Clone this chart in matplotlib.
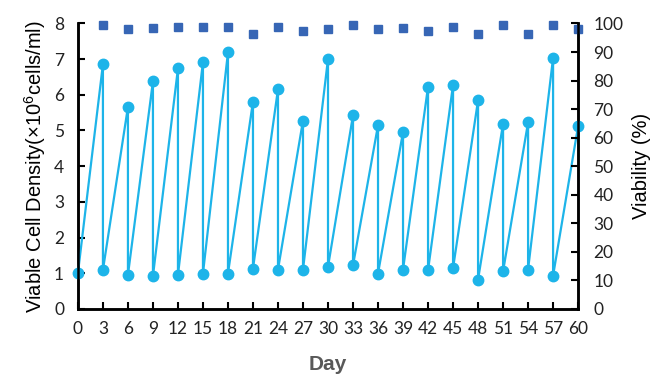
import numpy as np
import matplotlib
matplotlib.use("Agg")
import matplotlib.pyplot as plt

plt.rcParams['mathtext.default'] = 'regular'

# viable cell density: low value after each split (days 0..57), peak before split (days 3..60)
low_days = np.arange(0, 58, 3)
low_vals = [1.0, 1.09, 0.95, 0.92, 0.95, 0.99, 0.99, 1.13, 1.1, 1.1,
            1.18, 1.22, 0.99, 1.1, 1.08, 1.14, 0.82, 1.05, 1.1, 0.93]
peak_days = np.arange(3, 61, 3)
peak_vals = [6.86, 5.66, 6.38, 6.74, 6.92, 7.19, 5.81, 6.16, 5.28, 7.01,
             5.43, 5.15, 4.96, 6.23, 6.28, 5.85, 5.19, 5.23, 7.04, 5.12]

# viability (%) measured on days 3..60
via_days = np.arange(3, 61, 3)
via_vals = [99.4, 97.9, 98.4, 98.8, 98.8, 98.8, 96.2, 98.9, 97.4, 98.0,
            99.5, 97.9, 98.4, 97.4, 98.8, 96.2, 99.4, 96.2, 99.4, 97.9]

# sawtooth: low(d) -> peak(d+3) -> low(d+3) ...
x = []
y = []
for i in range(len(low_days)):
    x += [low_days[i], peak_days[i]]
    y += [low_vals[i], peak_vals[i]]

fig = plt.figure(figsize=(6.66, 3.91), dpi=100)
ax = fig.add_axes([0.117, 0.21, 0.751, 0.73])
ax2 = ax.twinx()

ax.plot(x, y, color='#1db4e9', lw=1.6, marker='o', ms=7.5, clip_on=False, zorder=3)
ax2.plot(via_days, via_vals, ls='none', marker='s', ms=6.3, color='#3766b5', clip_on=False)

ax.set_xlim(0, 60)
ax.set_ylim(0, 8)
ax2.set_ylim(0, 100)
ax.set_xticks(np.arange(0, 61, 3))
ax.set_yticks(np.arange(0, 9, 1))
ax2.set_yticks(np.arange(0, 101, 10))

for a in (ax, ax2):
    for s in a.spines.values():
        s.set_linewidth(1.8)
    a.spines['top'].set_visible(False)
    a.tick_params(direction='in', length=5, width=1.5, labelsize=12.5)
    for lab in a.get_xticklabels() + a.get_yticklabels():
        lab.set_fontfamily('Lato')
        lab.set_color('#222222')
ax.tick_params(axis='x', pad=9)
ax.tick_params(axis='y', pad=10)
ax2.tick_params(axis='y', pad=11)

ax.set_ylabel('Viable Cell Density(×10$^{6}$cells/ml)', fontsize=14.5,
              fontfamily='Liberation Sans', labelpad=4)
ax2.set_ylabel('Viability (%)', fontsize=14.5, fontfamily='Liberation Sans', labelpad=6)
ax.set_xlabel('Day', fontsize=15, fontweight='bold', color='#595959',
              fontfamily='Liberation Sans', labelpad=13)

fig.savefig('out.png', dpi=100)
